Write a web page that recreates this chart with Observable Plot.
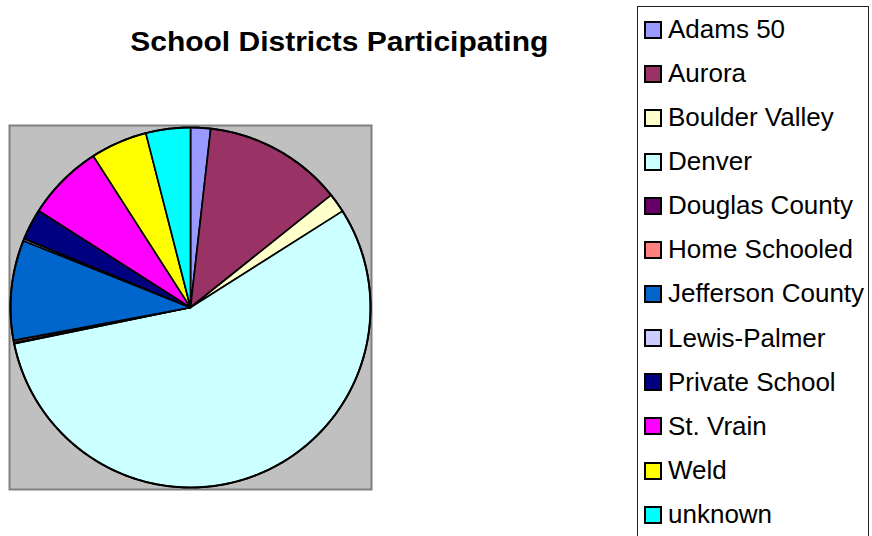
<!DOCTYPE html>
<html><head><meta charset="utf-8">
<script src="https://cdn.jsdelivr.net/npm/d3@7"></script>
<script src="https://cdn.jsdelivr.net/npm/@observablehq/plot@0.6"></script>
<style>
body{margin:0;background:#fff;font-family:"Liberation Sans",Arial,sans-serif;}
#wrap{position:relative;width:872px;height:536px;overflow:hidden;}
#chart{position:absolute;left:0;top:0;}
#title{position:absolute;left:0;width:679px;top:29px;text-align:center;}
#title span{display:inline-block;font-weight:bold;font-size:27px;line-height:27px;transform:scaleX(1.11);color:#000;white-space:nowrap;}
#legend{position:absolute;left:637px;top:6px;width:230px;height:560px;border:1.5px solid #222;background:#fff;}
.row{position:absolute;left:0;height:26px;}
.sw{position:absolute;left:6px;width:18px;height:18px;box-sizing:border-box;border:2px solid #000;}
.lb{position:absolute;left:30px;font-size:26px;line-height:26px;white-space:nowrap;color:#000;}
</style>
</head><body>
<div id="wrap">
  <div id="chart"></div>
  <div id="title"><span>School Districts Participating</span></div>
  <div id="legend"></div>
</div>
<script>
const districts = ["Adams 50","Aurora","Boulder Valley","Denver","Douglas County","Home Schooled","Jefferson County","Lewis-Palmer","Private School","St. Vrain","Weld","unknown"];
const shares = [1.8, 12.5, 1.75, 55.9, 0.1, 0.2, 9.0, 0.2, 2.8, 6.9, 5.1, 4.0];
const colors = ["#9999FF","#993366","#FFFFCC","#CCFFFF","#660066","#FF8080","#0066CC","#CCCCFF","#000080","#FF00FF","#FFFF00","#00FFFF"];

const table = districts.map((name, i) => ({name, value: shares[i]}));
const arcs = d3.pie().sort(null).value(d => d.value)(table);
const pts = [];
for (const a of arcs) {
  const name = a.data.name;
  pts.push({name, x: 0, y: 0});
  const n = Math.max(2, Math.ceil((a.endAngle - a.startAngle) / 0.01));
  for (let k = 0; k <= n; k++) {
    const t = a.startAngle + (a.endAngle - a.startAngle) * k / n;
    pts.push({name, x: Math.sin(t), y: Math.cos(t)});
  }
  pts.push({name, x: 0, y: 0});
}
const circle = d3.range(0, 361).map(d => ({x: Math.sin(d * Math.PI / 180), y: Math.cos(d * Math.PI / 180)}));

const plot = Plot.plot({
  width: 872, height: 536,
  marginLeft: 9, marginRight: 501, marginTop: 125, marginBottom: 47,
  x: {domain: [-181/180, 181/180], axis: null},
  y: {domain: [-182/180, 182/180], axis: null},
  color: {domain: districts, range: colors},
  style: {background: "transparent"},
  marks: [
    Plot.frame({fill: "#C0C0C0", stroke: "#808080", strokeWidth: 2}),
    Plot.line(pts, {x: "x", y: "y", z: "name", fill: "name", stroke: "#000", strokeWidth: 1.7, strokeLinejoin: "round"}),
    Plot.line(circle, {x: "x", y: "y", stroke: "#000", strokeWidth: 2})
  ]
});
document.getElementById("chart").appendChild(plot);

const leg = document.getElementById("legend");
districts.forEach((name, i) => {
  const sw = document.createElement("div");
  sw.className = "sw";
  sw.style.top = (13.5 + i * 44.1) + "px";
  sw.style.background = colors[i];
  leg.appendChild(sw);
  const lb = document.createElement("div");
  lb.className = "lb";
  lb.style.top = (8.8 + i * 44.1) + "px";
  lb.textContent = name;
  leg.appendChild(lb);
});
</script>
</body></html>
